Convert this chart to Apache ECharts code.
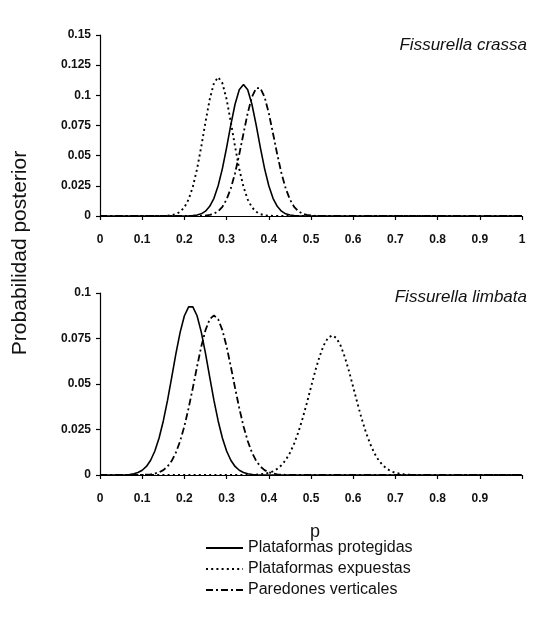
<!DOCTYPE html>
<html>
<head>
<meta charset="utf-8">
<script src="https://cdn.jsdelivr.net/npm/echarts@6/dist/echarts.min.js"></script>
<style>html,body{margin:0;padding:0;background:#fff}#c{width:534px;height:625px}</style>
</head>
<body>
<div id="c"></div>
<script>
const pValues = [0,0.01,0.02,0.03,0.04,0.05,0.06,0.07,0.08,0.09,
0.1,0.11,0.12,0.13,0.14,0.15,0.16,0.17,0.18,0.19,
0.2,0.21,0.22,0.23,0.24,0.25,0.26,0.27,0.28,0.29,
0.3,0.31,0.32,0.33,0.34,0.35,0.36,0.37,0.38,0.39,
0.4,0.41,0.42,0.43,0.44,0.45,0.46,0.47,0.48,0.49,
0.5,0.51,0.52,0.53,0.54,0.55,0.56,0.57,0.58,0.59,
0.6,0.61,0.62,0.63,0.64,0.65,0.66,0.67,0.68,0.69,
0.7,0.71,0.72,0.73,0.74,0.75,0.76,0.77,0.78,0.79,
0.8,0.81,0.82,0.83,0.84,0.85,0.86,0.87,0.88,0.89,
0.9,0.91,0.92,0.93,0.94,0.95,0.96,0.97,0.98,0.99,1];

// Fissurella crassa
const crassaProtegidas = [0,0,0,0,0,0,0,0,0,0,
0,0,0,0,0,0,0,0,0,0,
0,.0001,.0003,.0008,.0018,.0040,.0080,.0147,.0251,.0393,
.0567,.0755,.0926,.1046,.1090,.1046,.0926,.0755,.0567,.0393,
.0251,.0147,.0080,.0040,.0018,.0008,.0003,.0001,0,0,
0,0,0,0,0,0,0,0,0,0,
0,0,0,0,0,0,0,0,0,0,
0,0,0,0,0,0,0,0,0,0,
0,0,0,0,0,0,0,0,0,0,
0,0,0,0,0,0,0,0,0,0,0];
const crassaExpuestas = [0,0,0,0,0,0,0,0,0,0,
0,0,0,0,0,.0001,.0002,.0006,.0015,.0035,
.0072,.0138,.0242,.0390,.0576,.0779,.0967,.1101,.1150,.1101,
.0967,.0779,.0576,.0390,.0242,.0138,.0072,.0035,.0015,.0006,
.0002,.0001,0,0,0,0,0,0,0,0,
0,0,0,0,0,0,0,0,0,0,
0,0,0,0,0,0,0,0,0,0,
0,0,0,0,0,0,0,0,0,0,
0,0,0,0,0,0,0,0,0,0,
0,0,0,0,0,0,0,0,0,0,0];
const crassaParedones = [0,0,0,0,0,0,0,0,0,0,
0,0,0,0,0,0,0,0,0,0,
0,0,0,0,.0001,.0004,.0009,.0019,.0040,.0076,
.0137,.0229,.0354,.0511,.0684,.0852,.0986,.1060,.1060,.0986,
.0852,.0684,.0511,.0354,.0229,.0137,.0076,.0040,.0019,.0009,
.0004,.0001,0,0,0,0,0,0,0,0,
0,0,0,0,0,0,0,0,0,0,
0,0,0,0,0,0,0,0,0,0,
0,0,0,0,0,0,0,0,0,0,
0,0,0,0,0,0,0,0,0,0,0];

// Fissurella limbata
const limbataProtegidas = [0,0,0,0,0,0,.0001,.0003,.0007,.0014,
.0026,.0047,.0081,.0132,.0203,.0297,.0410,.0538,.0668,.0785,
.0875,.0924,.0924,.0875,.0785,.0668,.0538,.0410,.0297,.0203,
.0132,.0081,.0047,.0026,.0014,.0007,.0003,.0001,0,0,
0,0,0,0,0,0,0,0,0,0,
0,0,0,0,0,0,0,0,0,0,
0,0,0,0,0,0,0,0,0,0,
0,0,0,0,0,0,0,0,0,0,
0,0,0,0,0,0,0,0,0,0,
0,0,0,0,0,0,0,0,0,0,0];
const limbataExpuestas = [0,0,0,0,0,0,0,0,0,0,
0,0,0,0,0,0,0,0,0,0,
0,0,0,0,0,0,0,0,0,0,
0,0,0,0,0,0,.0001,.0002,.0004,.0007,
.0012,.0020,.0034,.0054,.0082,.0121,.0172,.0235,.0310,.0394,
.0483,.0571,.0649,.0712,.0753,.0767,.0753,.0712,.0649,.0571,
.0483,.0394,.0310,.0235,.0172,.0121,.0082,.0054,.0034,.0020,
.0012,.0007,.0004,.0002,.0001,0,0,0,0,0,
0,0,0,0,0,0,0,0,0,0,
0,0,0,0,0,0,0,0,0,0,0];
const limbataParedones = [0,0,0,0,0,0,0,0,0,0,
.0001,.0002,.0004,.0008,.0015,.0027,.0047,.0078,.0124,.0187,
.0268,.0368,.0479,.0596,.0706,.0796,.0856,.0877,.0856,.0796,
.0706,.0596,.0479,.0368,.0268,.0187,.0124,.0078,.0047,.0027,
.0015,.0008,.0004,.0002,.0001,0,0,0,0,0,
0,0,0,0,0,0,0,0,0,0,
0,0,0,0,0,0,0,0,0,0,
0,0,0,0,0,0,0,0,0,0,
0,0,0,0,0,0,0,0,0,0,
0,0,0,0,0,0,0,0,0,0,0];

const seriesNames = ['Plataformas protegidas','Plataformas expuestas','Paredones verticales'];
const panelTitles = ['Fissurella crassa','Fissurella limbata'];
const xTickLabelsTop = ['0','0.1','0.2','0.3','0.4','0.5','0.6','0.7','0.8','0.9','1'];
const xTickLabelsBottom = ['0','0.1','0.2','0.3','0.4','0.5','0.6','0.7','0.8','0.9',''];
const yTickLabelsTop = ['0','0.025','0.05','0.075','0.1','0.125','0.15'];
const yTickLabelsBottom = ['0','0.025','0.05','0.075','0.1'];
const yTitle = 'Probabilidad posterior';
const xTitle = 'p';

const FONT = '"Liberation Sans", Arial, sans-serif';
const pairs = arr => pValues.map((p, i) => [p, arr[i]]);
const styles = [
  {type: 'solid', width: 1.6},
  {type: [2, 3.2], width: 1.9},
  {type: [7, 3, 2, 3], width: 1.8}
];
const panelData = [
  [crassaProtegidas, crassaExpuestas, crassaParedones],
  [limbataProtegidas, limbataExpuestas, limbataParedones]
];

function xAxis(gi, labels) {
  return {
    type: 'value', gridIndex: gi, min: 0, max: 1, interval: 0.1,
    axisLine: {lineStyle: {color: '#000', width: 1.2}},
    axisTick: {show: true, inside: false, length: 4, lineStyle: {color: '#000', width: 1.2}},
    splitLine: {show: false},
    axisLabel: {
      margin: 18, color: '#111', fontSize: 12, fontWeight: 'bold', fontFamily: FONT,
      formatter: v => labels[Math.round(v * 10)]
    }
  };
}
function yAxis(gi, max, labels) {
  return {
    type: 'value', gridIndex: gi, min: 0, max: max, interval: 0.025,
    axisLine: {show: true, lineStyle: {color: '#000', width: 1.2}},
    axisTick: {show: true, inside: false, length: 4, lineStyle: {color: '#000', width: 1.2}},
    splitLine: {show: false},
    axisLabel: {
      margin: 9, color: '#111', fontSize: 12, fontWeight: 'bold', fontFamily: FONT,
      formatter: v => labels[Math.round(v / 0.025)]
    }
  };
}

const series = [];
panelData.forEach((arrs, gi) => {
  arrs.forEach((arr, si) => {
    series.push({
      name: seriesNames[si], type: 'line', xAxisIndex: gi, yAxisIndex: gi,
      data: pairs(arr), symbol: 'none', smooth: false, animation: false,
      lineStyle: {color: '#000', type: styles[si].type, width: styles[si].width},
      itemStyle: {color: '#000'}
    });
  });
});

const titleStyle = {fontFamily: FONT, fontSize: 17, fontStyle: 'italic', fontWeight: 'normal', color: '#111'};

const chart = echarts.init(document.getElementById('c'), null, {renderer: 'canvas'});
chart.setOption({
  animation: false,
  backgroundColor: '#fff',
  grid: [
    {left: 100, top: 35, width: 422, height: 181},
    {left: 100, top: 293, width: 422, height: 182}
  ],
  xAxis: [xAxis(0, xTickLabelsTop), xAxis(1, xTickLabelsBottom)],
  yAxis: [yAxis(0, 0.15, yTickLabelsTop), yAxis(1, 0.1, yTickLabelsBottom)],
  title: [
    {text: panelTitles[0], right: 7, top: 37, padding: 0, textStyle: titleStyle},
    {text: panelTitles[1], right: 7, top: 289, padding: 0, textStyle: titleStyle}
  ],
  legend: {
    data: seriesNames, orient: 'vertical', left: 205, top: 540, padding: 0,
    itemWidth: 37, itemHeight: 16, itemGap: 5,
    itemStyle: {opacity: 0},
    textStyle: {fontFamily: FONT, fontSize: 16, color: '#111'},
    selectedMode: false
  },
  graphic: [
    {type: 'text', x: 20, y: 253, rotation: Math.PI / 2,
     style: {text: yTitle, fontFamily: FONT, fontSize: 21, fill: '#111', align: 'center', verticalAlign: 'middle'}},
    {type: 'text', x: 315, y: 532,
     style: {text: xTitle, fontFamily: FONT, fontSize: 18, fill: '#111', align: 'center', verticalAlign: 'middle'}}
  ],
  series: series
});
</script>
</body>
</html>
